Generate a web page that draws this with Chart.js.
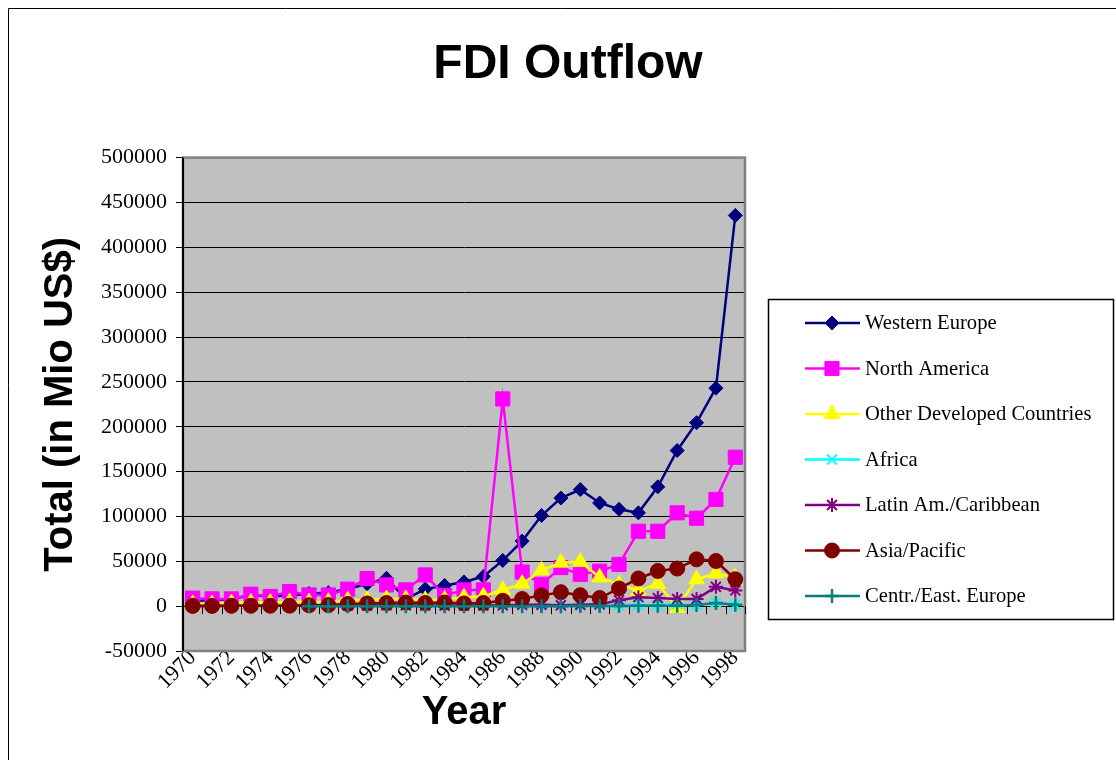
<!DOCTYPE html>
<html>
<head>
<meta charset="utf-8">
<title>FDI Outflow</title>
<script src="https://cdn.jsdelivr.net/npm/chart.js@4.4.0/dist/chart.umd.min.js"></script>
<style>
    html, body { margin: 0; padding: 0; background: #fff; }
    #wrap { width: 1116px; height: 760px; position: relative; }
</style>
</head>
<body>
<div id="wrap"><canvas id="fdiChart" width="1116" height="760"></canvas></div>
<script>
// Years on the category axis
const years = [
    '1970', '1971', '1972', '1973', '1974', '1975', '1976', '1977', '1978', '1979',
    '1980', '1981', '1982', '1983', '1984', '1985', '1986', '1987', '1988', '1989',
    '1990', '1991', '1992', '1993', '1994', '1995', '1996', '1997', '1998'
];

// FDI outflow by region, Mio US$
const westernEurope = [6000, 6500, 8000, 12000, 11000, 12000, 14000, 15000, 19000, 25000,
    31000, 8000, 19000, 23000, 27000, 33000, 51000, 72500, 101000, 120500,
    130000, 115000, 108000, 104000, 133000, 173500, 204500, 243000, 435500];
const northAmerica = [8900, 8100, 8100, 13300, 10800, 16300, 12500, 12500, 18900, 30800,
    23700, 18100, 34800, 11900, 18100, 18100, 231000, 38000, 24400, 43000,
    35500, 39000, 46500, 83500, 83500, 104000, 98000, 119000, 166000];
const otherDeveloped = [2500, 2500, 3500, 4000, 4000, 4500, 4500, 5000, 6500, 7000,
    8000, 8000, 7000, 7500, 10000, 11000, 18000, 25000, 40000, 48500,
    49500, 32000, 24500, 17000, 25000, -2000, 30000, 36500, 32000];
const africa = [500, 600, 500, 700, 600, 800, 700, 800, 900, 1000,
    1200, 1000, 900, 1000, 800, 900, 1000, 1100, 1000, 1200,
    1000, 1500, 1000, 1500, 1000, 2500, 1000, 4000, 1500];
const latinAmCaribbean = [300, 300, 400, 400, 500, 500, 600, 600, 700, 700,
    800, 800, 700, 600, 600, 700, 1000, 1500, 1500, 1000,
    1500, 2000, 6500, 10000, 9000, 8000, 8000, 21500, 17500];
const asiaPacific = [300, 300, 400, 400, 500, 500, 1000, 1200, 2500, 3000,
    3500, 4000, 3500, 4000, 3000, 3500, 6000, 8000, 12000, 15500,
    12200, 9000, 19700, 30800, 39200, 41900, 52200, 50300, 30000];
const centrEastEurope = [null, null, null, null, null, null, 0, 0, 0, 0,
    0, 0, 0, 0, 0, 0, 0, 0, 0, 0,
    100, 200, 300, 500, 500, 500, 1200, 3500, 1500];

const seriesNames = ['Western Europe', 'North America', 'Other Developed Countries', 'Africa',
    'Latin Am./Caribbean', 'Asia/Pacific', 'Centr./East. Europe'];
const seriesValues = [westernEurope, northAmerica, otherDeveloped, africa,
    latinAmCaribbean, asiaPacific, centrEastEurope];

// Excel-like styling for each series
const seriesColors = ['#000080', '#FF00FF', '#FFFF00', '#00FFFF', '#800080', '#800000', '#008080'];
const seriesMarkers = ['rectRot', 'rect', 'triangle', 'crossRot', 'star', 'circle', 'cross'];
const markerRadius = [7, 10, 9, 7, 7, 7.5, 7];
const markerBorder = [1, 1, 1, 2, 2, 1, 2.5];

const serifFont = "'Liberation Serif', 'Times New Roman', serif";
const sansFont = "'Liberation Sans', Arial, sans-serif";

const datasets = seriesNames.map(function(name, i) {
    return {
        label: name,
        data: seriesValues[i],
        borderColor: seriesColors[i],
        backgroundColor: seriesColors[i],
        borderWidth: 2.5,
        pointStyle: seriesMarkers[i],
        pointRadius: markerRadius[i],
        pointBorderWidth: markerBorder[i],
        pointBackgroundColor: seriesColors[i],
        pointBorderColor: seriesColors[i],
        tension: 0,
        clip: false,
        // later series sit on top, like in Excel
        order: seriesNames.length - i
    };
});

// gray plot area, frame, zero-line ticks, outer border
const plotArea = {
    id: 'plotArea',
    beforeDraw(chart) {
        const { ctx, chartArea: a } = chart;
        ctx.save();
        ctx.fillStyle = '#C0C0C0';
        ctx.fillRect(a.left, a.top, a.right - a.left, a.bottom - a.top);
        ctx.strokeStyle = '#000';
        ctx.lineWidth = 1;
        ctx.beginPath();
        ctx.moveTo(8.5, 760);
        ctx.lineTo(8.5, 8.5);
        ctx.lineTo(1116, 8.5);
        ctx.stroke();
        ctx.restore();
    },
    beforeDatasetsDraw(chart) {
        const { ctx, chartArea: a, scales } = chart;
        ctx.save();
        ctx.strokeStyle = '#808080';
        ctx.lineWidth = 2.5;
        ctx.strokeRect(a.left, a.top, a.right - a.left, a.bottom - a.top);
        ctx.strokeStyle = '#000';
        ctx.lineWidth = 2;
        ctx.beginPath();
        ctx.moveTo(a.left, a.top);
        ctx.lineTo(a.left, a.bottom);
        ctx.stroke();
        // category tick marks hanging off the zero line
        const y0 = scales.y.getPixelForValue(0);
        const step = (a.right - a.left) / years.length;
        ctx.lineWidth = 1;
        ctx.beginPath();
        for (let i = 0; i <= years.length; i++) {
            const x = Math.round(a.left + i * step) + 0.5;
            ctx.moveTo(x, y0);
            ctx.lineTo(x, y0 + 8);
        }
        ctx.stroke();
        ctx.restore();
    }
};

// boxed legend on the right
const sideLegend = {
    id: 'sideLegend',
    afterDraw(chart) {
        const ctx = chart.ctx;
        ctx.save();
        ctx.strokeStyle = '#000';
        ctx.lineWidth = 1.5;
        ctx.strokeRect(768.5, 299.5, 345, 320);
        chart.data.datasets.forEach(function(ds, i) {
            const y = 323 + i * 45.5;
            ctx.strokeStyle = ds.borderColor;
            ctx.lineWidth = 2.5;
            ctx.beginPath();
            ctx.moveTo(805, y);
            ctx.lineTo(860, y);
            ctx.stroke();
            ctx.fillStyle = ds.pointBackgroundColor;
            ctx.strokeStyle = ds.pointBorderColor;
            ctx.lineWidth = ds.pointBorderWidth;
            Chart.helpers.drawPoint(ctx, {
                pointStyle: ds.pointStyle,
                radius: ds.pointRadius,
                borderWidth: ds.pointBorderWidth,
                rotation: 0
            }, 832, y);
            ctx.fillStyle = '#000';
            ctx.font = '20.6px ' + serifFont;
            ctx.textAlign = 'left';
            ctx.textBaseline = 'middle';
            ctx.fillText(ds.label, 865, y + 1);
        });
        ctx.restore();
    }
};

new Chart(document.getElementById('fdiChart'), {
    type: 'line',
    data: { labels: years, datasets: datasets },
    plugins: [plotArea, sideLegend],
    options: {
        responsive: false,
        animation: false,
        events: [],
        layout: { padding: { left: 20, right: 0, top: 0, bottom: 0 } },
        scales: {
            x: {
                offset: true,
                grid: { display: false, drawTicks: false },
                border: { display: false },
                ticks: {
                    autoSkip: false,
                    minRotation: 45,
                    maxRotation: 45,
                    padding: -6,
                    color: '#000',
                    font: { family: serifFont, size: 22 },
                    callback: function(value, index) {
                        return index % 2 === 0 ? years[index] : '';
                    }
                },
                title: {
                    display: true,
                    text: 'Year',
                    color: '#000',
                    font: { family: sansFont, size: 40, weight: 'bold' },
                    padding: { top: 0, bottom: 23 }
                },
                afterFit: function(scale) { scale.height = 109; }
            },
            y: {
                min: -50000,
                max: 500000,
                grid: { color: '#000', lineWidth: 1, tickLength: 7, tickColor: '#000' },
                border: { color: '#000', width: 2 },
                ticks: {
                    stepSize: 50000,
                    padding: 9,
                    color: '#000',
                    font: { family: serifFont, size: 22 },
                    callback: function(value) { return String(value); }
                },
                title: {
                    display: true,
                    text: 'Total (in Mio US$)',
                    color: '#000',
                    font: { family: sansFont, size: 40, weight: 'bold' },
                    padding: { top: 17, bottom: 0 }
                },
                afterFit: function(scale) { scale.width = 163; }
            },
            // empty axis that only reserves the room taken by the legend
            side: {
                position: 'right',
                display: true,
                grid: { display: false },
                border: { display: false },
                ticks: { display: false },
                afterFit: function(scale) { scale.width = 371; }
            }
        },
        plugins: {
            legend: { display: false },
            tooltip: { enabled: false },
            title: {
                display: true,
                text: 'FDI Outflow',
                color: '#000',
                font: { family: sansFont, size: 48, weight: 'bold' },
                padding: { top: 36, bottom: 64 }
            }
        }
    }
});
</script>
</body>
</html>
